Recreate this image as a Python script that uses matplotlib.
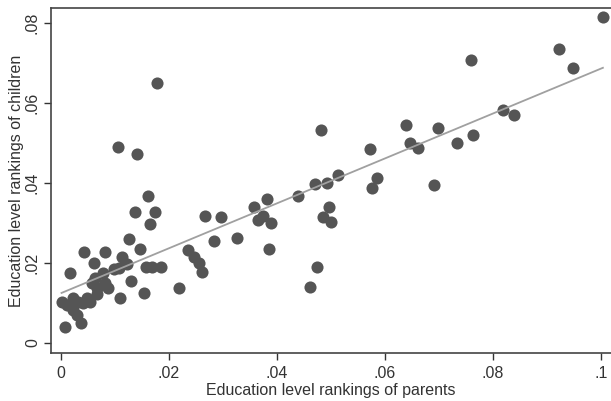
import matplotlib
matplotlib.use("Agg")
import matplotlib.pyplot as plt
import numpy as np

# education level rankings (parents, children)
parents = [0.1004, 0.0923, 0.0948, 0.0760, 0.0178, 0.0818, 0.0839, 0.0699,
           0.0640, 0.0647, 0.0661, 0.0733, 0.0763, 0.0572, 0.0481, 0.0106,
           0.0140, 0.0514, 0.0586, 0.0576, 0.0692, 0.0470, 0.0492, 0.0439,
           0.0161, 0.0497, 0.0486, 0.0501, 0.0137, 0.0175, 0.0164, 0.0267,
           0.0296, 0.0358, 0.0382, 0.0375, 0.0365, 0.0389, 0.0385, 0.0327,
           0.0283, 0.0236, 0.0246, 0.0256, 0.0262, 0.0219, 0.0474, 0.0461,
           0.0126, 0.0147, 0.0157, 0.0168, 0.0185, 0.0130, 0.0153, 0.0110,
           0.0042, 0.0082, 0.0062, 0.0016, 0.0113, 0.0077, 0.0098, 0.0108,
           0.0122, 0.0057, 0.0066, 0.0081, 0.0088, 0.0066, 0.0063,
           0.0001, 0.0011, 0.0023, 0.0032, 0.0048, 0.0054, 0.0040,
           0.0023, 0.0029, 0.0037, 0.0007]
children = [0.0814, 0.0736, 0.0688, 0.0708, 0.0650, 0.0583, 0.0571, 0.0538,
            0.0544, 0.0499, 0.0487, 0.0499, 0.0520, 0.0486, 0.0532, 0.0489,
            0.0473, 0.0421, 0.0412, 0.0387, 0.0394, 0.0398, 0.0399, 0.0368,
            0.0367, 0.0339, 0.0314, 0.0303, 0.0328, 0.0328, 0.0298, 0.0318,
            0.0314, 0.0341, 0.0361, 0.0318, 0.0308, 0.0301, 0.0234, 0.0263,
            0.0254, 0.0233, 0.0214, 0.0199, 0.0178, 0.0137, 0.0190, 0.0141,
            0.0259, 0.0234, 0.0189, 0.0190, 0.0189, 0.0156, 0.0126, 0.0113,
            0.0227, 0.0228, 0.0201, 0.0174, 0.0214, 0.0176, 0.0185, 0.0188,
            0.0197, 0.0149, 0.0137, 0.0149, 0.0137, 0.0122, 0.0162,
            0.0103, 0.0095, 0.0112, 0.0103, 0.0112, 0.0103, 0.0100,
            0.0083, 0.0070, 0.0049, 0.0041]

xticks = [0, 0.02, 0.04, 0.06, 0.08, 0.1]
xticklabels = ["0", ".02", ".04", ".06", ".08", ".1"]
yticks = [0, 0.02, 0.04, 0.06, 0.08]
yticklabels = ["0", ".02", ".04", ".06", ".08"]

plt.rcParams['font.family'] = ['Liberation Sans', 'DejaVu Sans']

fig = plt.figure(figsize=(6.11, 4.01), dpi=100)
ax = fig.add_axes([51/611, 48/401, 560/611, 345/401])

x = np.array(parents)
y = np.array(children)
ax.scatter(x, y, s=76, color='#555555', linewidths=0, zorder=2)

# linear fit
b, a = np.polyfit(x, y, 1)
xs = np.array([x.min(), x.max()])
ax.plot(xs, a + b*xs, color='#a0a0a0', lw=1.3, zorder=3)

ax.set_xlim(-0.00185, 0.1019)
ax.set_ylim(-0.0025, 0.08375)
ax.set_xticks(xticks)
ax.set_xticklabels(xticklabels)
ax.set_yticks(yticks)
ax.set_yticklabels(yticklabels, rotation=90, va='center')
ax.tick_params(direction='out', length=5, width=1, color='#333333',
               labelsize=11.5, labelcolor='#333333', pad=3)
ax.tick_params(axis='x', pad=4.5)

for side in ['left', 'bottom', 'top']:
    ax.spines[side].set_color('#444444')
    ax.spines[side].set_linewidth(1.2)
ax.spines['right'].set_visible(False)

ax.set_xlabel("Education level rankings of parents", fontsize=11.5,
              color='#333333', labelpad=1.5)
ax.set_ylabel("Education level rankings of children", fontsize=11.5,
              color='#333333', labelpad=0.5)

fig.savefig("out.png", dpi=100)
